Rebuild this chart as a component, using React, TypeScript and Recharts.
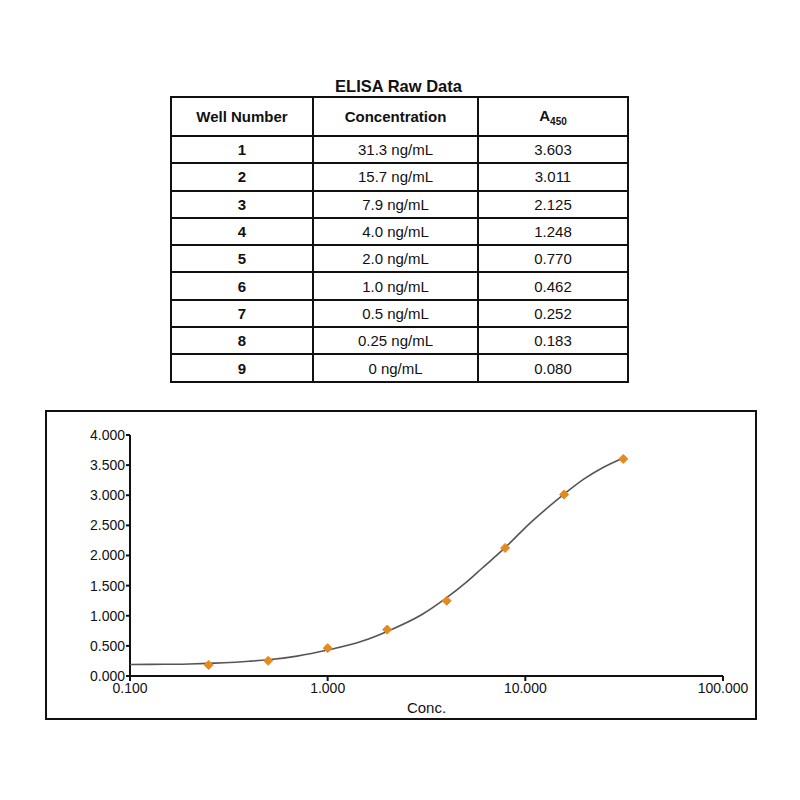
import React from "react";
import { ComposedChart, Scatter, XAxis, YAxis, Label } from "recharts";

const wellNumbers = ["1", "2", "3", "4", "5", "6", "7", "8", "9"];
const concLabels = ["31.3 ng/mL", "15.7 ng/mL", "7.9 ng/mL", "4.0 ng/mL", "2.0 ng/mL", "1.0 ng/mL", "0.5 ng/mL", "0.25 ng/mL", "0 ng/mL"];
const concValues = [31.3, 15.7, 7.9, 4.0, 2.0, 1.0, 0.5, 0.25, 0];
const a450Values = [3.603, 3.011, 2.125, 1.248, 0.77, 0.462, 0.252, 0.183, 0.08];

// fitted curve
const curveX = [0.1, 0.15, 0.2, 0.25, 0.3, 0.4, 0.5, 0.7, 1.0, 1.5, 2.0, 3.0, 4.0, 5.0, 6.0, 7.9, 10.5, 12.5, 15.7, 20, 25, 31.3];
const curveY = [0.19, 0.195, 0.2, 0.21, 0.22, 0.245, 0.27, 0.33, 0.43, 0.58, 0.74, 1.02, 1.3, 1.55, 1.78, 2.13, 2.53, 2.75, 3.02, 3.28, 3.47, 3.62];

const xTicks = [0.1, 1, 10, 100];
const yTicks = [0, 0.5, 1, 1.5, 2, 2.5, 3, 3.5, 4];

const pointData = concValues
  .map((x, i) => ({ x, y: a450Values[i] }))
  .filter((p) => p.x > 0);
const curveData = curveX.map((x, i) => ({ x, y: curveY[i] }));

const FONT = "'Liberation Sans', Arial, Helvetica, sans-serif";

const Marker = (props: any) => {
  const { cx, cy } = props;
  if (cx == null || cy == null) return <g />;
  const r = 4.5;
  return (
    <path
      d={`M${cx},${cy - r} L${cx + r},${cy} L${cx},${cy + r} L${cx - r},${cy} Z`}
      fill="#e58a1f"
      stroke="#e58a1f"
      strokeWidth={1}
      strokeLinejoin="round"
    />
  );
};

const cellBorder = "2px solid #111";

export default function App() {
  const colW = [142, 165, 150];
  return (
    <div style={{ position: "absolute", left: 0, top: 0, width: 800, height: 800, background: "#fff", fontFamily: FONT, color: "#111" }}>
      <div style={{ position: "absolute", left: 170, top: 76, width: 457, height: 20, textAlign: "center", fontWeight: "bold", fontSize: 16.5, lineHeight: "20px" }}>
        ELISA Raw Data
      </div>
      <table
        style={{
          position: "absolute",
          left: 170,
          top: 96,
          width: 457,
          borderCollapse: "collapse",
          border: cellBorder,
          fontSize: 15,
          tableLayout: "fixed",
        }}
      >
        <colgroup>
          {colW.map((w, i) => (
            <col key={i} style={{ width: w }} />
          ))}
        </colgroup>
        <tbody>
          <tr style={{ height: 39 }}>
            <td style={{ border: cellBorder, textAlign: "center", fontWeight: "bold", padding: 0 }}>Well Number</td>
            <td style={{ border: cellBorder, textAlign: "center", fontWeight: "bold", padding: 0 }}>Concentration</td>
            <td style={{ border: cellBorder, textAlign: "center", fontWeight: "bold", padding: 0 }}>
              A<sub style={{ fontSize: 10 }}>450</sub>
            </td>
          </tr>
          {wellNumbers.map((w, i) => (
            <tr key={w} style={{ height: 27.3 }}>
              <td style={{ border: cellBorder, textAlign: "center", fontWeight: "bold", padding: 0 }}>{w}</td>
              <td style={{ border: cellBorder, textAlign: "center", padding: 0 }}>{concLabels[i]}</td>
              <td style={{ border: cellBorder, textAlign: "center", padding: 0 }}>{a450Values[i].toFixed(3)}</td>
            </tr>
          ))}
        </tbody>
      </table>

      <div style={{ position: "absolute", left: 45, top: 410, width: 712, height: 310, border: "2px solid #111", boxSizing: "border-box" }}>
        <ComposedChart width={708} height={306} margin={{ top: 23, right: 32, left: 0, bottom: 0 }} style={{ fontFamily: FONT }}>
          <XAxis
            type="number"
            dataKey="x"
            scale="log"
            domain={[0.1, 100]}
            ticks={xTicks}
            allowDataOverflow
            height={42}
            tickSize={5}
            tickMargin={2}
            tickFormatter={(v: number) => v.toFixed(3)}
            tick={{ fontSize: 14, fill: "#111" }}
            axisLine={{ stroke: "#111", strokeWidth: 2 }}
            tickLine={{ stroke: "#111", strokeWidth: 2 }}
          >
            <Label value="Conc." position="insideBottom" offset={5} style={{ fontSize: 15, fill: "#111" }} />
          </XAxis>
          <YAxis
            type="number"
            dataKey="y"
            domain={[0, 4]}
            ticks={yTicks}
            width={83}
            tickSize={4}
            tickMargin={1}
            tickFormatter={(v: number) => v.toFixed(3)}
            tick={{ fontSize: 14, fill: "#111" }}
            axisLine={{ stroke: "#111", strokeWidth: 2 }}
            tickLine={{ stroke: "#111", strokeWidth: 2 }}
          />
          <Scatter
            data={curveData}
            line={{ stroke: "#555", strokeWidth: 1.6 }}
            lineType="joint"
            lineJointType="monotoneX"
            shape={() => <g />}
            isAnimationActive={false}
          />
          <Scatter data={pointData} shape={Marker} isAnimationActive={false} />
        </ComposedChart>
      </div>
    </div>
  );
}
